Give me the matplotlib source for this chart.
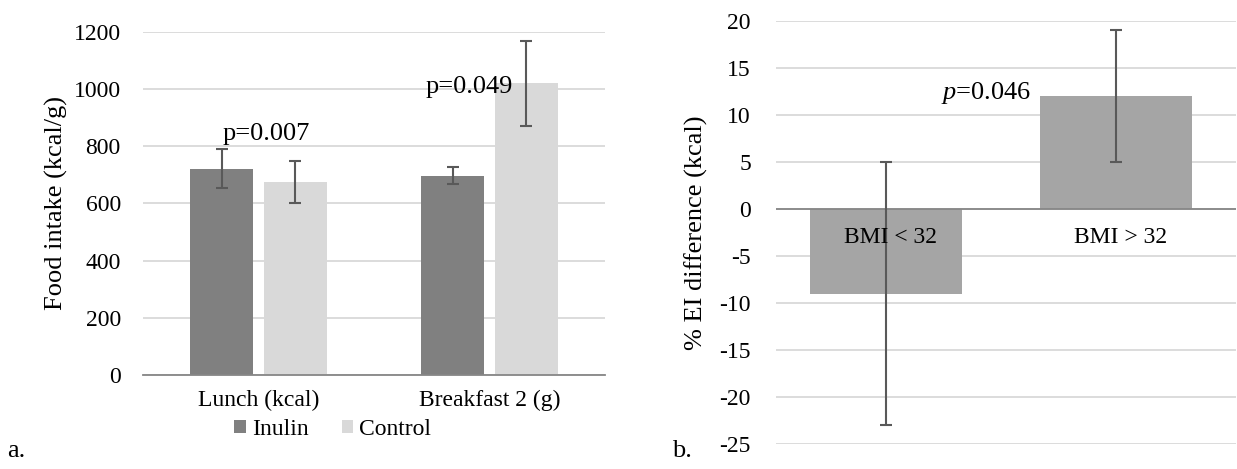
import matplotlib.pyplot as plt
import numpy as np

plt.rcParams['font.family'] = ['Liberation Serif', 'DejaVu Serif']
plt.rcParams['axes.unicode_minus'] = False
plt.rcParams['mathtext.fontset'] = 'custom'
plt.rcParams['mathtext.rm'] = 'Liberation Serif'
plt.rcParams['mathtext.it'] = 'Liberation Serif:italic'

# panel a
meals = ["Lunch (kcal)", "Breakfast 2 (g)"]
inulin = [722, 697]
inulin_err = [68, 30]
control = [675, 1020]
control_err = [73, 150]

# panel b
bmi_groups = ["BMI < 32", "BMI > 32"]
ei_diff = [-9, 12]
ei_err = [14, 7]

grid_c = "#d9d9d9"
err_c = "#595959"

fig = plt.figure(figsize=(12.37, 4.69), dpi=100)

# ---- a ----
ax = fig.add_axes([0.1156, 0.2004, 0.3735, 0.7314])
x = np.arange(len(meals))
w = 0.27
ax.bar(x - 0.16, inulin, w, color="#808080", label="Inulin", zorder=2)
ax.bar(x + 0.16, control, w, color="#d9d9d9", label="Control", zorder=2)
ax.errorbar(x - 0.16, inulin, yerr=inulin_err, fmt="none", ecolor=err_c,
            elinewidth=1.5, capsize=4.5, capthick=1.5, zorder=3)
ax.errorbar(x + 0.16, control, yerr=control_err, fmt="none", ecolor=err_c,
            elinewidth=1.5, capsize=4.5, capthick=1.5, zorder=3)
ax.set_xlim(-0.5, 1.5)
ax.set_ylim(0, 1200)
ax.set_yticks(range(0, 1201, 200))
ax.set_xticks(x)
ax.set_xticklabels(meals)
ax.yaxis.grid(True, color=grid_c, linewidth=1.3, zorder=0)
ax.set_axisbelow(True)
for s in ["top", "right", "left"]:
    ax.spines[s].set_visible(False)
ax.spines["bottom"].set_color("#868686")
ax.spines["bottom"].set_linewidth(1.3)
ax.tick_params(axis="both", length=0, labelsize=17)
ax.tick_params(axis="y", pad=16)
ax.tick_params(axis="x", pad=11)
ax.set_ylabel("Food intake (kcal/g)", fontsize=19, labelpad=4)
ax.text(0.035, 822, "p=0.007", ha="center", va="baseline", fontsize=19)
ax.text(1.10, 987, "p=0.049", ha="right", va="baseline", fontsize=19)
fig.legend(loc="center", bbox_to_anchor=(0.269, 0.085), ncol=2, frameon=False,
           fontsize=17, handlelength=0.5, handleheight=0.5, handletextpad=0.25,
           columnspacing=1.4, borderpad=0)
fig.text(0.006, 0.025, "a.", fontsize=19)

# ---- b ----
bx = fig.add_axes([0.6273, 0.0533, 0.3719, 0.9019])
xb = np.arange(len(bmi_groups))
bx.bar(xb - 0.02, ei_diff, 0.66, color="#a5a5a5", zorder=2)
bx.errorbar(xb - 0.02, ei_diff, yerr=ei_err, fmt="none", ecolor=err_c,
            elinewidth=1.5, capsize=4.5, capthick=1.5, zorder=3)
bx.axhline(0, color="#868686", linewidth=1.3, zorder=2.5)
bx.set_xlim(-0.5, 1.5)
bx.set_ylim(-25, 20)
bx.set_yticks(range(-25, 21, 5))
bx.set_xticks([])
bx.yaxis.grid(True, color=grid_c, linewidth=1.3, zorder=0)
bx.set_axisbelow(True)
for s in bx.spines.values():
    s.set_visible(False)
bx.tick_params(axis="y", length=0, labelsize=17, pad=18)
bx.set_ylabel("% EI difference (kcal)", fontsize=19, labelpad=8)
for i, g in enumerate(bmi_groups):
    bx.text(xb[i], -3, g, ha="center", va="center", fontsize=17, zorder=4)
bx.text(0.61, 12.3, r"$\it{p}$=0.046", ha="right", va="center", fontsize=19)
fig.text(0.543, 0.025, "b.", fontsize=19)

fig.savefig("out.png", dpi=100)
